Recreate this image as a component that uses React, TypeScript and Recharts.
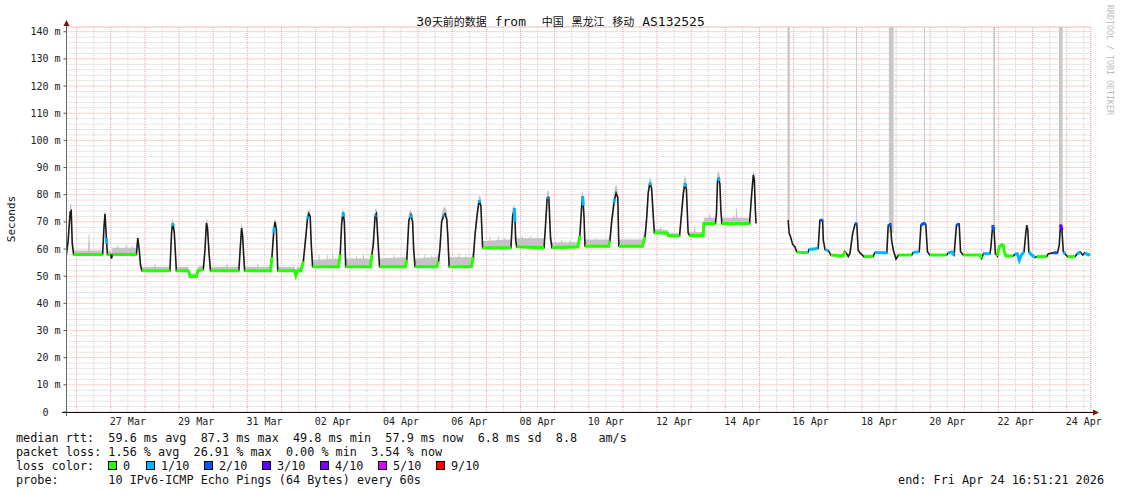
import React from 'react';
import { ComposedChart, Line, Area, XAxis, YAxis, CartesianGrid } from 'recharts';

// time is in days since 26 Mar 2026 00:00; the graph covers 25 Mar 16:51 .. 24 Apr 16:51
const timeDomain: [number, number] = [-0.298, 29.702];
const msDomain: [number, number] = [0, 141.75];

const labelDays = [1.5, 3.5, 5.5, 7.5, 9.5, 11.5, 13.5, 15.5, 17.5, 19.5, 21.5, 23.5, 25.5, 27.5, 29.5];
const labelTexts = ['27 Mar', '29 Mar', '31 Mar', '02 Apr', '04 Apr', '06 Apr', '08 Apr', '10 Apr', '12 Apr', '14 Apr', '16 Apr', '18 Apr', '20 Apr', '22 Apr', '24 Apr'];
const dayLines = Array.from({ length: 30 }, (_, i) => i);
const halfDayLines = Array.from({ length: 30 }, (_, i) => i + 0.5);
const majorMs = [0, 10, 20, 30, 40, 50, 60, 70, 80, 90, 100, 110, 120, 130, 140];
const minorMs = Array.from({ length: 71 }, (_, i) => i * 2).filter((v) => v % 10 !== 0);

// [day, median ms, loss level (-1 = none), smoke top ms]
const rttBefore: [number, number, number, number][] = [
  [-0.30, 58, 0, 59.5], [-0.25, 63, -1, 66], [-0.19, 73.5, 1, 76.5], [-0.16, 74, -1, 76.5], [-0.13, 62, -1, 66], [-0.09, 58, 0, 59.5],
  [0.76, 58, 0, 59.5], [0.80, 68, -1, 71], [0.83, 73, -1, 74.5], [0.87, 64, 1, 67], [0.88, 62, 1, 65], [0.90, 58, 0, 59.5], [0.99, 58, 0, 59.5],
  [1.02, 56.5, -1, 58.5], [1.05, 58, 0, 60.5], [1.75, 58, 0, 60.5], [1.79, 64, -1, 65], [1.83, 60, -1, 62], [1.87, 54, -1, 56], [1.91, 52, 0, 53.5],
  [2.73, 52, 0, 53.5], [2.78, 66, -1, 69], [2.81, 69.5, 1, 71.3], [2.83, 68.5, 1, 70.5], [2.86, 66, -1, 69], [2.89, 59, -1, 61], [2.92, 52, 0, 53.5],
  [3.27, 52, 0, 53.5], [3.32, 49.9, 0, 51], [3.51, 49.9, 0, 51], [3.55, 52, 0, 53.5], [3.71, 52.5, 0, 54],
  [3.76, 60, -1, 63], [3.80, 69.6, -1, 71.3], [3.83, 68, -1, 70.5], [3.88, 58, -1, 61], [3.92, 52, 0, 53.5],
  [4.75, 52, 0, 53.5], [4.79, 60, -1, 63], [4.83, 67.7, -1, 70], [4.86, 65, -1, 68], [4.89, 58, -1, 60], [4.92, 52, 0, 53.5],
  [5.68, 52, 0, 53.5], [5.72, 57, 0, 60], [5.77, 66, 1, 69], [5.79, 68, 1, 70.5], [5.81, 70, -1, 71.5], [5.85, 67, -1, 69.5], [5.89, 52, 0, 53.5],
  [6.38, 52, 0, 53.5], [6.42, 50.2, 0, 52], [6.47, 52, 0, 53.5], [6.57, 52, 0, 53.5], [6.64, 55.5, 0, 58],
  [6.70, 63, -1, 66], [6.76, 71, 1, 73.5], [6.78, 72, 1, 74], [6.80, 73, -1, 74.5], [6.84, 72, -1, 74], [6.87, 62, -1, 65], [6.91, 53.5, 0, 56],
  [7.67, 53.5, 0, 56.5], [7.72, 58, 0, 61], [7.76, 69, -1, 72], [7.80, 73.5, 1, 75], [7.82, 72, 1, 74], [7.84, 70, -1, 73], [7.88, 53.5, 0, 56.5],
  [8.61, 53.5, 0, 56.5], [8.65, 58, 0, 61], [8.69, 62, -1, 65], [8.74, 72, 1, 74.5], [8.76, 72.5, 1, 75], [8.78, 73, -1, 75], [8.83, 62, -1, 65], [8.87, 53.5, 0, 56.5],
  [9.63, 53.5, 0, 57], [9.67, 56, 0, 59], [9.73, 70.5, -1, 73.5], [9.79, 72.5, 1, 74.5], [9.81, 71.5, 1, 73.5], [9.84, 70, -1, 72.5], [9.87, 60, -1, 63], [9.91, 53.5, 0, 56.5],
  [10.55, 53.5, 0, 57], [10.60, 55.5, 0, 58.5], [10.64, 60, -1, 63], [10.69, 70, -1, 73], [10.74, 72, 1, 75], [10.76, 72.5, 1, 75.5], [10.79, 73, -1, 75.5],
  [10.84, 71, -1, 74], [10.87, 65, -1, 68], [10.91, 53.5, 0, 57],
  [11.56, 53.5, 0, 57], [11.62, 57, 0, 60], [11.67, 65.5, -1, 68.5], [11.73, 72.5, -1, 75.5], [11.79, 78, 1, 80], [11.81, 77, 1, 79.5], [11.84, 76, -1, 79], [11.89, 60.5, 0, 63],
  [12.72, 60.5, 0, 63.5], [12.77, 72, -1, 75], [12.82, 75, 1, 76.5], [12.84, 70, 1, 72], [12.86, 63, -1, 66], [12.89, 60.8, 0, 64],
  [13.69, 60.5, 0, 64], [13.73, 68, -1, 71], [13.78, 78.5, 1, 81], [13.80, 79, 1, 81.5], [13.83, 79, -1, 81.5], [13.88, 64, -1, 67], [13.92, 60.5, 0, 62.5],
  [14.68, 60.8, 0, 62.5], [14.74, 65, 0, 68], [14.79, 75.5, -1, 78.5], [14.82, 79.5, 1, 82.3], [14.84, 76, 1, 79], [14.86, 72, -1, 75], [14.89, 61, 0, 63.5],
  [15.58, 61, 0, 63.5], [15.62, 63, 0, 66], [15.67, 70, -1, 73], [15.74, 77, 1, 80], [15.76, 78.5, 1, 82], [15.80, 80.5, -1, 84], [15.85, 79, -1, 82], [15.88, 61, 0, 63.5],
  [16.57, 61, 0, 63.5], [16.65, 64.5, 0, 67.5], [16.70, 72, -1, 75], [16.74, 80.5, -1, 83.5], [16.79, 84.4, 1, 86.6], [16.81, 83.5, 1, 86], [16.84, 82.3, -1, 85],
  [16.89, 72, -1, 75], [16.92, 66, 0, 67.5], [17.31, 65.8, 0, 67], [17.33, 64.9, 0, 65.8],
  [17.66, 64.9, 0, 65.8], [17.71, 72, -1, 75], [17.77, 80.5, -1, 84], [17.82, 84.2, 1, 87.6], [17.84, 83, 1, 86], [17.86, 82, -1, 85], [17.91, 66, -1, 68], [17.95, 65, 0, 66.3],
  [18.35, 65, 0, 66.3], [18.37, 69.4, 0, 71.5], [18.71, 69.4, 0, 71.5], [18.74, 73, -1, 76], [18.77, 85, -1, 88], [18.80, 86.3, 1, 89],
  [18.82, 85, 1, 88], [18.84, 84, -1, 87], [18.87, 74, -1, 77], [18.90, 69.4, 0, 71.5],
  [19.71, 69.4, 0, 71.5], [19.77, 80, -1, 83], [19.82, 87.3, -1, 88.8], [19.85, 85.5, -1, 88], [19.88, 74, -1, 77], [19.90, 69.4, 0, 71],
];

// single noisy pings on the flat stretches: [day, base ms, top ms]
const smokeSpikes: [number, number, number][] = [
  [0.36, 58, 65.5], [1.2, 58, 61.5], [1.45, 58, 61.8], [1.62, 58, 61.2], [2.3, 52, 54.5], [4.4, 52, 54.8], [5.3, 52, 54.5],
  [7.1, 53.5, 58.2], [7.35, 53.5, 57.8], [7.5, 53.5, 58.5], [8.2, 53.5, 57.5], [8.4, 53.5, 58], [9.3, 53.5, 57.8], [10.2, 53.5, 58.2],
  [10.4, 53.5, 57.6], [11.2, 53.5, 58.5], [11.4, 53.5, 58], [12.1, 60.5, 64.5], [12.35, 60.5, 64.8], [12.55, 60.5, 64.2],
  [13.05, 60.8, 65], [13.3, 60.8, 64.9], [13.5, 60.8, 64.5], [14.2, 60.5, 63.5], [14.45, 60.5, 63.3], [15.2, 61, 64], [16.2, 61, 63.8],
  [17.1, 65.8, 68], [18.1, 65, 68.5], [18.55, 69.4, 73], [19.25, 69.4, 72.5], [19.33, 69.4, 75],
];

// [day, median ms, loss level (-1 = none)]
const rttAfter: [number, number, number][] = [
  [20.84, 70.6, 3], [20.87, 65.8, -1], [20.91, 64.5, 1], [20.97, 61.8, -1], [21.04, 60.8, 1], [21.09, 59.0, 0], [21.19, 58.7, 0], [21.42, 58.7, 0],
  [21.45, 59.8, 1], [21.63, 60.1, 1], [21.72, 60.3, 1], [21.77, 70.6, 2], [21.85, 70.6, 2], [21.87, 63.3, -1], [21.92, 59.8, 1], [22.02, 59.4, 1],
  [22.09, 57.8, 0], [22.45, 57.5, 0], [22.50, 59.0, 0], [22.55, 58.4, 1], [22.60, 57.2, 0], [22.65, 58.4, 1], [22.73, 65.8, -1], [22.80, 69.2, 2],
  [22.85, 69.4, 2], [22.89, 59.6, 1], [22.96, 58.4, -1], [23.06, 57.2, 0], [23.33, 57.3, 0], [23.38, 58.7, 1], [23.73, 58.6, 1], [23.77, 68.5, 2],
  [23.84, 69.2, 2], [23.87, 63.3, -1], [23.92, 59.6, 1], [24.00, 56.3, -1], [24.07, 57.8, 0], [24.46, 57.8, 0], [24.50, 58.7, 1], [24.68, 59.0, 1],
  [24.73, 68.8, 2], [24.80, 69.4, 2], [24.87, 69.2, 2], [24.92, 59.0, 1], [24.99, 57.8, 0], [25.48, 57.8, 0], [25.53, 58.6, 1], [25.63, 58.9, 1],
  [25.70, 57.8, 1], [25.77, 68.8, 2], [25.85, 69.2, 2], [25.89, 59.0, -1], [25.97, 57.8, 0], [26.46, 57.8, 0], [26.51, 56.6, 0], [26.56, 58.3, 1],
  [26.75, 58.3, 1], [26.78, 60.8, -1], [26.83, 68.8, 2], [26.87, 67.0, 2], [26.91, 58.3, 1], [26.97, 57.4, 0], [27.02, 60.8, 0], [27.09, 61.6, 0],
  [27.14, 61.4, 0], [27.17, 59.0, 0], [27.22, 57.4, 0], [27.43, 57.4, 0], [27.48, 58.1, 1], [27.55, 58.3, 1], [27.61, 55.9, 1], [27.67, 57.8, 1],
  [27.75, 59.0, 1], [27.80, 65.8, -1], [27.83, 68.8, -1], [27.86, 67.0, -1], [27.89, 59.0, 1], [27.97, 57.8, 1], [28.07, 56.9, 1], [28.12, 57.2, 0],
  [28.41, 57.2, 0], [28.46, 58.3, 1], [28.61, 58.6, 2], [28.73, 58.6, 2], [28.78, 61.4, -1], [28.82, 69.0, 3], [28.86, 67.0, 3], [28.90, 59.0, 1],
  [28.95, 58.3, 1], [29.02, 57.2, 0], [29.24, 57.2, 0], [29.30, 58.1, 1], [29.39, 59.0, 1], [29.47, 57.8, 0], [29.53, 58.6, 1], [29.63, 57.8, 1],
  [29.68, 58.1, 1],
];

// tall smoke columns after 16 Apr: [from day, to day, lowest ms]
const smokeColumns: [number, number, number][] = [
  [20.82, 20.89, 70], [21.85, 21.88, 70], [22.83, 22.86, 69], [23.79, 23.93, 66], [24.82, 24.85, 69], [26.85, 26.90, 67], [28.77, 28.88, 66],
];

const lossColors = ['#26ff00', '#00b8ff', '#0059ff', '#5e00ff', '#7e00ff', '#dd00ff', '#ff0000'];
const lossLabels = ['0', '1/10', '2/10', '3/10', '4/10', '5/10', '9/10'];

const titleText = '30天前的数据 from  中国 黑龙江 移动 AS132525';
const medianLine = 'median rtt:  59.6 ms avg  87.3 ms max  49.8 ms min  57.9 ms now  6.8 ms sd  8.8   am/s';
const lossLine = 'packet loss: 1.56 % avg  26.91 % max  0.00 % min  3.54 % now';
const probeLine = 'probe:       10 IPv6-ICMP Echo Pings (64 Bytes) every 60s';
const endLine = 'end: Fri Apr 24 16:51:21 2026';

const medianRows = [
  ...rttBefore.map(([t, ms, loss]) => ({ t, ms: ms as number | null, loss })),
  { t: 20.3, ms: null as number | null, loss: -1 },
  ...rttAfter.map(([t, ms, loss]) => ({ t, ms: ms as number | null, loss })),
];
const smokeRows = rttBefore.map(([t, ms, , top]) => ({ t, band: [ms - 0.4, top] }));
const spikeRows = smokeSpikes.flatMap(([t, base, top]) => [
  { t: t - 0.03, band: [base, base + 1] as number[] | null },
  { t: t - 0.01, band: [base, top] as number[] | null },
  { t: t + 0.01, band: [base, top] as number[] | null },
  { t: t + 0.03, band: [base, base + 1] as number[] | null },
  { t: t + 0.032, band: null },
]);
const columnRows = smokeColumns.flatMap(([a, b, lo]) => [
  { t: a, band: [lo, 150] as number[] | null },
  { t: b, band: [lo, 150] as number[] | null },
  { t: b + 0.002, band: null },
]);
const lossRows = [0, 1, 2, 3].map((lvl) => medianRows.map((r) => ({ t: r.t, v: r.loss === lvl ? r.ms : null })));

const MONO = '"DejaVu Sans Mono", "Noto Sans CJK SC", monospace';

const MsTick = (props: any) => {
  const { x, y, payload } = props;
  const v = payload.value;
  return (
    <text x={v === 0 ? x - 12 : x} y={y} dy="0.35em" textAnchor="end" fontFamily={MONO} fontSize={10} fill="#222">
      {v === 0 ? '0' : `${v} m`}
    </text>
  );
};

const DayTick = (props: any) => {
  const { x, y, index } = props;
  return (
    <text x={x} y={y + 9} dy="0.35em" textAnchor="middle" fontFamily={MONO} fontSize={10} fill="#222">
      {labelTexts[index]}
    </text>
  );
};

const Title = () => {
  const parts = titleText.split(/([\u4e00-\u9fff]+)/).filter((p) => p.length > 0);
  return (
    <div style={{ position: 'absolute', left: 0, width: 1121, top: 12, textAlign: 'center', fontFamily: MONO, fontSize: 13, lineHeight: '18px', whiteSpace: 'pre', color: '#111' }}>
      {parts.map((p, i) =>
        /[\u4e00-\u9fff]/.test(p) ? (
          <span key={i} style={{ fontFamily: '"Noto Sans CJK SC"', fontSize: 11 }}>{p}</span>
        ) : (
          <span key={i}>{p}</span>
        )
      )}
    </div>
  );
};

const textLine = (top: number, left: number, text: string, extra: React.CSSProperties = {}) => (
  <div style={{ position: 'absolute', top, left, fontFamily: MONO, fontSize: 11.8, lineHeight: '14px', whiteSpace: 'pre', color: '#111', ...extra }}>{text}</div>
);

const LossLegend = () => {
  const boxX = [108, 146, 204, 262, 320, 378, 436];
  return (
    <>
      {textLine(459, 16, 'loss color:')}
      {lossLabels.map((lab, i) => (
        <React.Fragment key={lab}>
          <div style={{ position: 'absolute', left: boxX[i], top: 461, width: 7, height: 7, background: lossColors[i], border: '1px solid #000' }} />
          {textLine(459, boxX[i] + 15, lab)}
        </React.Fragment>
      ))}
    </>
  );
};

const App: React.FC = () => {
  return (
    <div style={{ position: 'absolute', left: 0, top: 0, width: 1121, height: 494, background: '#fff', overflow: 'hidden' }}>
      <ComposedChart width={1121} height={494} margin={{ top: 27, right: 30.3, bottom: 62, left: 6.5 }}>
        <XAxis xAxisId="main" type="number" dataKey="t" domain={timeDomain} allowDataOverflow ticks={labelDays} interval={0}
          tick={<DayTick />} tickLine={false} axisLine={false} tickSize={0} tickMargin={0} height={20} />
        <XAxis xAxisId="day" type="number" dataKey="t" domain={timeDomain} allowDataOverflow ticks={dayLines} interval={0} hide height={0} />
        <XAxis xAxisId="half" type="number" dataKey="t" domain={timeDomain} allowDataOverflow ticks={halfDayLines} interval={0} hide height={0} />
        <YAxis yAxisId="main" type="number" domain={msDomain} allowDataOverflow ticks={majorMs} interval={0} width={60}
          tick={<MsTick />} tickSize={3} tickMargin={3} axisLine={false} tickLine={{ stroke: '#555' }} />
        <YAxis yAxisId="minor" type="number" domain={msDomain} allowDataOverflow ticks={minorMs} interval={0} hide width={0} />

        <CartesianGrid xAxisId="half" yAxisId="minor" stroke="#cfcfcf" strokeDasharray="1 1" />
        <CartesianGrid xAxisId="day" yAxisId="main" stroke="#f3a3a3" strokeDasharray="1 1" />

        <Area xAxisId="main" yAxisId="main" data={smokeRows} dataKey="band" type="linear" stroke="none" fill="#c4c4c4" fillOpacity={1} isAnimationActive={false} />
        <Area xAxisId="main" yAxisId="main" data={spikeRows} dataKey="band" type="linear" stroke="none" fill="#c4c4c4" fillOpacity={1} isAnimationActive={false} />
        <Area xAxisId="main" yAxisId="main" data={columnRows} dataKey="band" type="linear" stroke="none" fill="#c8c8c8" fillOpacity={1} isAnimationActive={false} />
        <Line xAxisId="main" yAxisId="main" data={medianRows} dataKey="ms" type="linear" stroke="#1c1c1c" strokeWidth={1.6} dot={false} activeDot={false} isAnimationActive={false} />
        {lossRows.map((rows, lvl) => (
          <Line key={lvl} xAxisId="main" yAxisId="main" data={rows} dataKey="v" type="linear" stroke={lossColors[lvl]} strokeWidth={3}
            dot={false} activeDot={false} isAnimationActive={false} />
        ))}
      </ComposedChart>

      <svg width={1121} height={494} style={{ position: 'absolute', left: 0, top: 0, pointerEvents: 'none' }}>
        <line x1={66.5} y1={416} x2={66.5} y2={25} stroke="#666" strokeWidth={1} />
        <line x1={62} y1={412.5} x2={1094} y2={412.5} stroke="#111" strokeWidth={1.2} />
        <polygon points="63.5,26 69.5,26 66.5,20" fill="#7a1010" />
        <polygon points="1093,409.5 1093,415.5 1099,412.5" fill="#7a1010" />
        <text transform="rotate(-90 11 219)" x={11} y={219} textAnchor="middle" dominantBaseline="central" fontFamily={MONO} fontSize={11} fill="#111">Seconds</text>
        <text transform="rotate(90 1110 60)" x={1110} y={60} textAnchor="middle" dominantBaseline="central" fontFamily={MONO} fontSize={8.3} fill="#bdbdbd">RRDTOOL / TOBI OETIKER</text>
      </svg>

      <Title />
      {textLine(431, 16, medianLine)}
      {textLine(445, 16, lossLine)}
      <LossLegend />
      {textLine(473, 16, probeLine)}
      {textLine(473, 0, endLine, { left: undefined, right: 17 })}
    </div>
  );
};

export default App;
